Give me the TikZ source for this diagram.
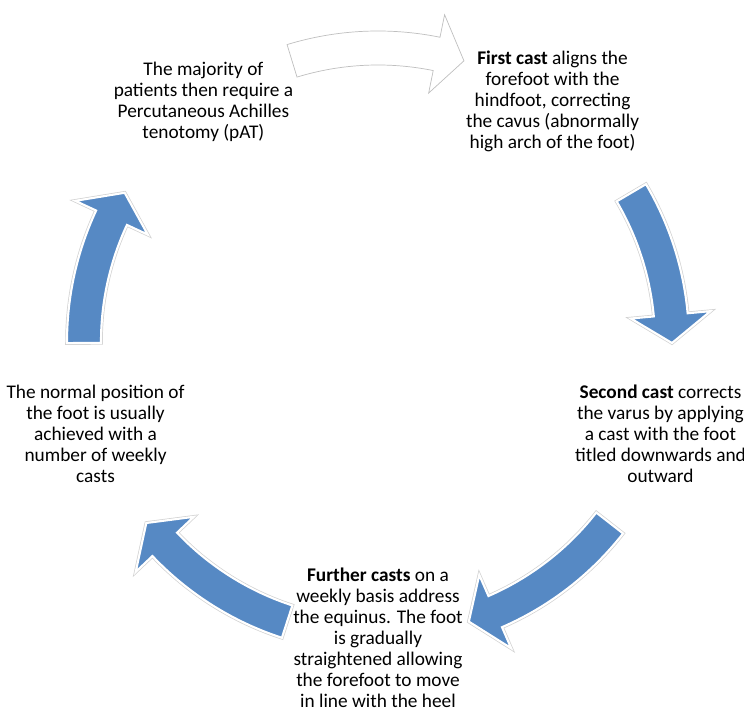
\documentclass[tikz,border=0pt]{standalone}
\usepackage{fontspec}
\setmainfont{Carlito}
\usetikzlibrary{calc}
\definecolor{castblue}{RGB}{86,137,196}
\tikzset{
    stepnode/.style = {align=center, inner sep=0pt,
        font=\fontsize{11}{12}\selectfont},
    bluearrow/.style = {fill=castblue, draw=white, line width=1.2pt,
        preaction={draw=black!18, line width=2pt}},
    whitearrow/.style = {fill=white, draw=black!25, line width=0.4pt}
}
% curved block arrow on the cycle: style, tail angle, tip angle
\newcommand{\castarrow}[3]{%
  \pgfmathsetmacro{\hb}{#3+5.5}
  \path[#1] (#2:311) arc[start angle=#2, end angle=\hb, radius=311]
    -- (\hb:334) -- (#3:294) -- (\hb:254) -- (\hb:277)
    arc[start angle=\hb, end angle=#2, radius=277] -- cycle;
}

\begin{document}
\begin{tikzpicture}[x=0.02cm, y=0.02cm]
            \useasboundingbox (-378,-367) rectangle (366,342);
            \castarrow{whitearrow}{107}{73}
            \castarrow{bluearrow}{30.5}{-0.2}
            \castarrow{bluearrow}{-38}{-72}
            \castarrow{bluearrow}{-108}{-142}
            \castarrow{bluearrow}{180.2}{149.5}
            \node [stepnode] (pat) at (126:297) {The majority of\\patients then require a\\Percutaneous Achilles\\tenotomy (pAT)};
            \node [stepnode] (first) at (54:297) {\textbf{First cast} aligns the\\forefoot with the\\hindfoot, correcting\\the cavus (abnormally\\high arch of the foot)};
            \node [stepnode] (second) at (-18:297) {\textbf{Second cast} corrects\\the varus by applying\\a cast with the foot\\titled downwards and\\outward};
            \node [stepnode] (further) at (-90:296) {\textbf{Further casts} on a\\weekly basis address\\the equinus. The foot\\is gradually\\straightened allowing\\the forefoot to move\\in line with the heel};
            \node [stepnode] (normal) at (198:297) {The normal position of\\the foot is usually\\achieved with a\\number of weekly\\casts};
        \end{tikzpicture}
\end{document}
